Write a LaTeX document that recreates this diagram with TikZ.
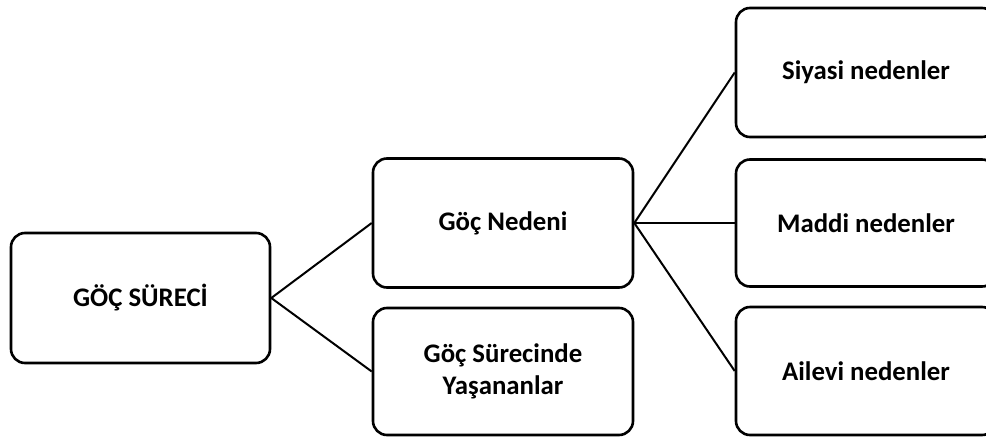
\documentclass[tikz,border=0pt]{standalone}
\usepackage{fontspec}
\setmainfont{Carlito}
\begin{document}
\begin{tikzpicture}[x=1pt,y=-1pt,
  box/.style={draw=black, line width=2.6pt, rounded corners=14pt, fill=white,
    minimum width=#1, inner sep=0pt, align=center,
    font=\fontsize{26.8}{32}\selectfont\bfseries},
  box/.default=260pt,
  link/.style={draw=black, line width=2pt}]
\useasboundingbox (0,0) rectangle (986,437);
\clip (0,0) rectangle (986,437);
% tree nodes
\node[box=259pt, minimum height=130pt] (root)   at (140.5,298)  {GÖÇ SÜRECİ};
\node[box, minimum height=129pt]       (cause)  at (503,223)    {Göç Nedeni};
\node[box, minimum height=127pt]       (during) at (503,371.5)  {Göç Sürecinde\\Yaşananlar};
\node[box, minimum height=129pt]       (pol)    at (866,72.5)   {Siyasi nedenler};
\node[box, minimum height=127pt]       (mat)    at (866,223)    {Maddi nedenler};
\node[box, minimum height=128pt]       (fam)    at (866,371)    {Ailevi nedenler};
% connectors
\draw[link] (root.east) -- (cause.west);
\draw[link] (root.east) -- (during.west);
\draw[link] (cause.east) -- (pol.west);
\draw[link] (cause.east) -- (mat.west);
\draw[link] (cause.east) -- (fam.west);
\end{tikzpicture}
\end{document}
